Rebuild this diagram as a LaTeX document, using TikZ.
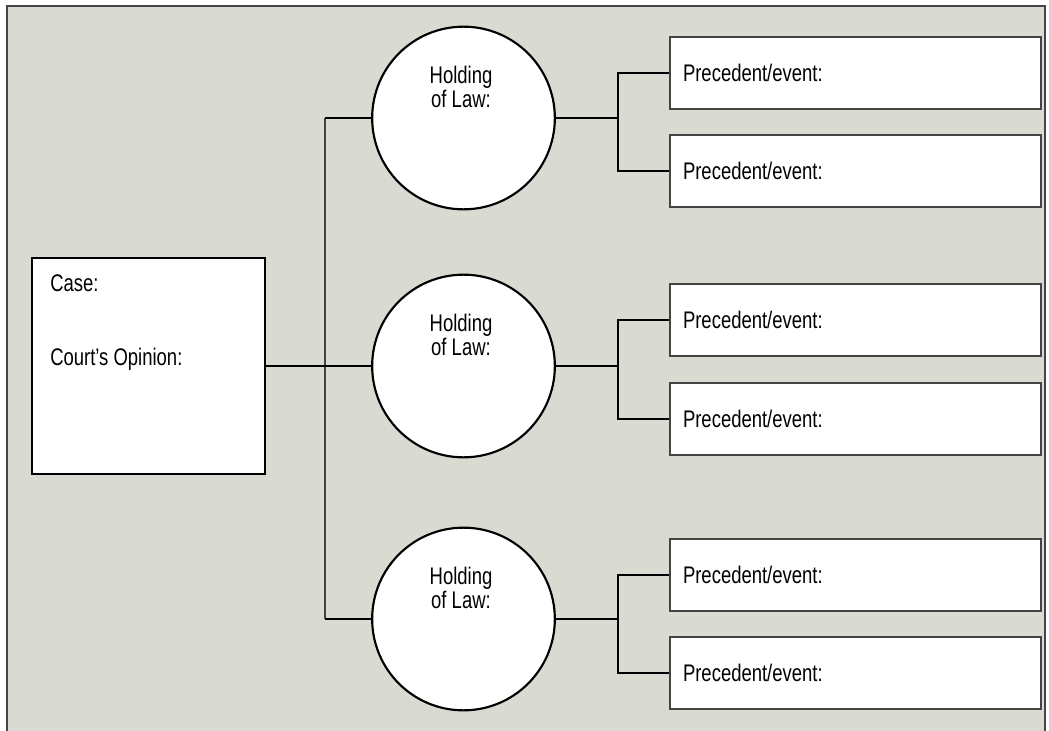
\documentclass[tikz,border=0pt]{standalone}
\usepackage{fontspec}
\setmainfont{Liberation Sans}[FakeStretch=0.77]
\definecolor{paper}{RGB}{217,218,209}
\definecolor{rule}{RGB}{68,68,68}
\begin{document}
\begin{tikzpicture}[x=0.75pt, y=-0.75pt,
  font=\fontsize{18}{18}\selectfont,
  casebox/.style={draw, line width=2.2pt, fill=white, minimum width=174.75pt, minimum height=162pt},
  holding/.style={draw, circle, line width=1.6pt, fill=white, minimum size=137pt},
  event/.style={draw=rule, line width=1.1pt, fill=white, minimum width=278.25pt, minimum height=54pt,
    inner xsep=9.75pt, text width=258.75pt, align=left},
  link/.style={line width=1.6pt},
  trunk/.style={draw=rule, line width=1.1pt}] %{,}
\useasboundingbox (0,0) rectangle (1049,731);
\fill[paper] (7,6) rectangle (1045,731);
\draw[rule, line width=1.1pt] (7,731) -- (7,6) -- (1045,6) -- (1045,731);
\node[casebox] (C_0) at (148.5,366) {};
\node[anchor=base west, inner sep=0pt] (C_0_a) at (50,291) {Case:};
\node[anchor=base west, inner sep=0pt] (C_0_b) at (50,365) {Court’s Opinion:};
\node[holding] (H_1) at (463.5,118) {};
\node[align=center] (H_1_t) at (461,87) {Holding\\of Law:};
\node[holding] (H_2) at (463.5,366) {};
\node[align=center] (H_2_t) at (461,335) {Holding\\of Law:};
\node[holding] (H_3) at (463.5,619) {};
\node[align=center] (H_3_t) at (461,588) {Holding\\of Law:};
\coordinate (T_1) at (325,118);
\coordinate (T_3) at (325,619);
\draw[trunk] (T_1) -- (T_3);
\draw[link] (T_1) -- (H_1.west);
\draw[link] (T_3) -- (H_3.west);
\draw[link] (C_0.east) -- (H_2.west);
\node[event] (P_1_1) at (855.5,73) {Precedent/event:};
\node[event] (P_1_2) at (855.5,171) {Precedent/event:};
\coordinate (B_1) at (618,118);
\draw[link] (H_1.east) -- (B_1);
\draw[link] (P_1_1.west) -| (B_1) |- (P_1_2.west);
\node[event] (P_2_1) at (855.5,320) {Precedent/event:};
\node[event] (P_2_2) at (855.5,419) {Precedent/event:};
\coordinate (B_2) at (618,366);
\draw[link] (H_2.east) -- (B_2);
\draw[link] (P_2_1.west) -| (B_2) |- (P_2_2.west);
\node[event] (P_3_1) at (855.5,575) {Precedent/event:};
\node[event] (P_3_2) at (855.5,673) {Precedent/event:};
\coordinate (B_3) at (618,619);
\draw[link] (H_3.east) -- (B_3);
\draw[link] (P_3_1.west) -| (B_3) |- (P_3_2.west);
\end{tikzpicture}
\end{document}
